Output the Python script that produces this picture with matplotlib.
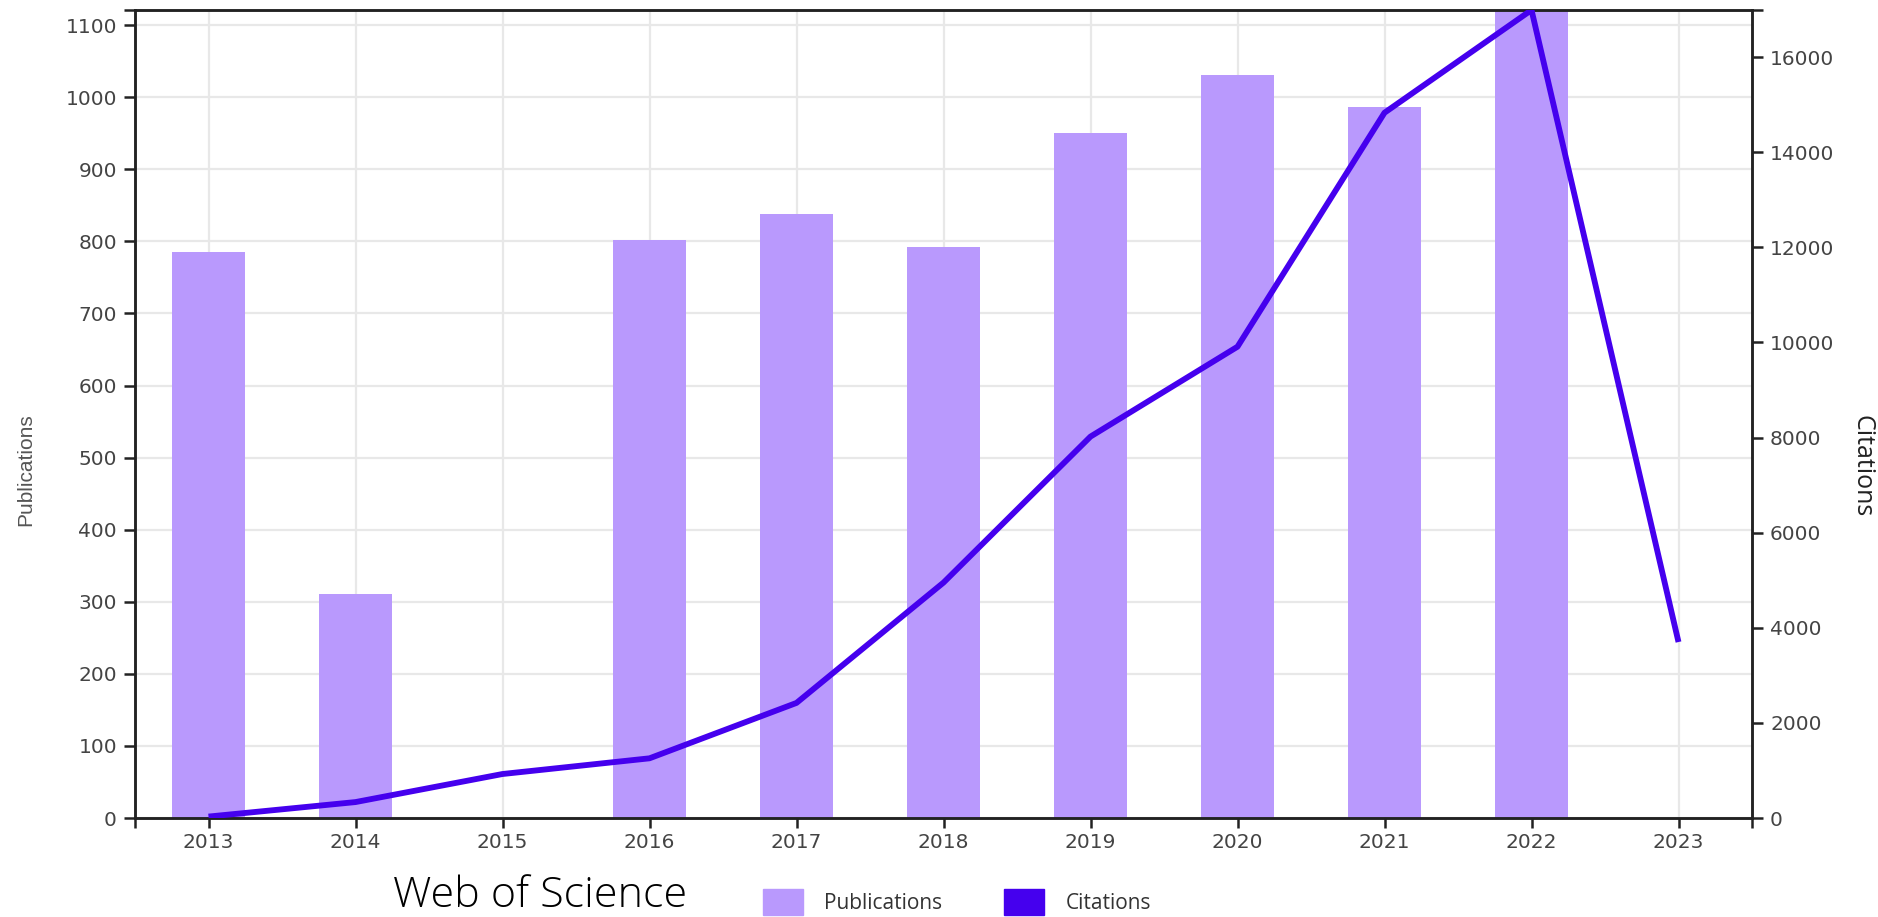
#%%
import numpy as np
import matplotlib
matplotlib.use("Agg")
import matplotlib.pyplot as plt
from matplotlib.patches import Patch

#%% data read off the Web of Science chart
years        = [2013, 2014, 2015, 2016, 2017, 2018, 2019, 2020, 2021, 2022, 2023]
publications = [785, 311, 0, 802, 838, 792, 951, 1031, 987, 1121, 0]
citations    = [30, 335, 925, 1255, 2420, 4950, 8020, 9910, 14830, 16990, 3700]
pub_ticks    = np.arange(0, 1101, 100)
cit_ticks    = np.arange(0, 16001, 2000)

bar_color  = "#b999fd"
line_color = "#4500ee"
spine_col  = "#222222"
tick_col   = "#444444"

#%% plot
fig = plt.figure(figsize=(18.78, 9.17), dpi=100)
ax = fig.add_axes([135/1878, 99/917, (1752-135)/1878, (818-10)/917])
ax2 = ax.twinx()

ax.bar(years, publications, width=0.5, color=bar_color, zorder=2)
ax2.plot(years, citations, color=line_color, lw=4.2, solid_joinstyle="round",
         solid_capstyle="butt", zorder=3)

ax.set_xlim(2012.5, 2023.5)
ax.set_ylim(0, max(publications))
ax2.set_ylim(0, max(citations))
ax.set_xticks(years)
ax.set_yticks(pub_ticks)
ax2.set_yticks(cit_ticks)
# outer ticks at the domain ends, like d3 axes
ax.set_xticks([2012.5, 2023.5], minor=True)
ax.set_yticks([max(publications)], minor=True)
ax2.set_yticks([max(citations)], minor=True)

ax.grid(True, which="major", color="#e8e8e8", lw=1.6, zorder=0)
ax.set_axisbelow(True)

for a in (ax, ax2):
    for s in a.spines.values():
        s.set_color(spine_col)
        s.set_linewidth(1.8)
    a.tick_params(which="both", direction="out", length=8, width=1.8,
                  color=spine_col, labelcolor=tick_col, labelsize=14.5, pad=5)
ax.tick_params(axis="x", which="both", length=7, pad=4)

fig.text(26/1878, 1 - 470/917, "Publications", rotation=90, ha="center", va="center",
         fontsize=15, color="#555555", family=["Liberation Sans", "DejaVu Sans"])
fig.text(1862/1878, 1 - 466/917, "Citations", rotation=270, ha="center", va="center",
         fontsize=18, color="#222222", family=["Open Sans", "DejaVu Sans"])

fig.text(393/1878, 1 - 896/917, "Web of Science", ha="left", va="center",
         fontsize=31, color="black", family=["Open Sans", "DejaVu Sans"], fontweight="light")

handles = [Patch(color=bar_color, label="Publications"),
           Patch(color=line_color, label="Citations")]
fig.legend(handles=handles, loc="center left", bbox_to_anchor=(763/1878, 1 - 902/917),
           ncol=2, frameon=False, handlelength=1.92, handleheight=1.6,
           handletextpad=1.0, columnspacing=3.0, borderpad=0, borderaxespad=0,
           labelcolor="#333333", prop={"family": ["Open Sans", "DejaVu Sans"], "size": 15})

fig.savefig("out.png", dpi=100)
